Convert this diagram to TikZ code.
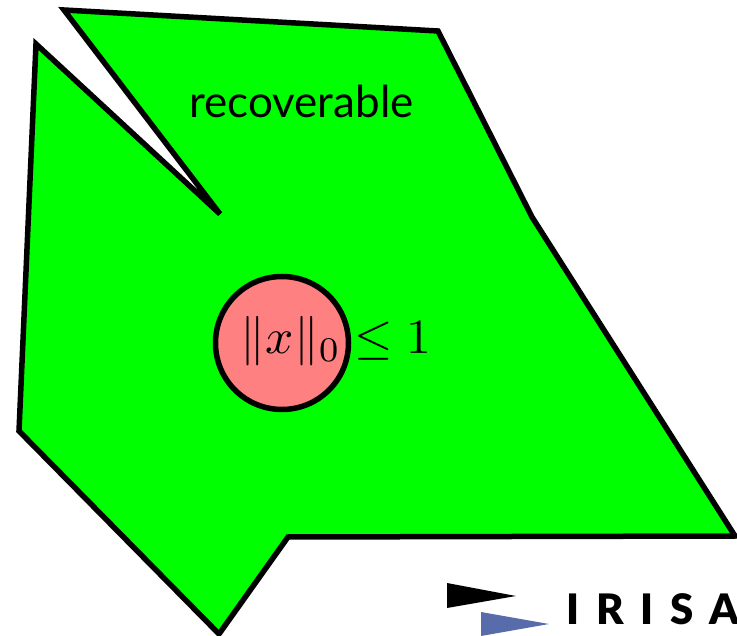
\documentclass[tikz,border=0pt]{standalone}
\usepackage{amsmath,amssymb}
\usepackage{fontspec}
\usepackage{xcolor}
\usepackage{tikz}
\newfontfamily\regionfont{Lato}
\newfontfamily\logofont[LetterSpace=40]{Lato Black}
\definecolor{regiongreen}{RGB}{0,255,0}
\definecolor{ballred}{RGB}{255,128,128}
\definecolor{logoblue}{RGB}{88,108,172}
\tikzset{
  regionshape/.style={draw=black,fill=regiongreen,line width=5.5pt,miter limit=3},
  ballshape/.style={draw=black,fill=ballred,line width=5.5pt},
  regionlabel/.style={anchor=base west,inner sep=0pt,font=\regionfont\fontsize{44}{52}\selectfont},
  balllabel/.style={anchor=base west,inner sep=0pt,scale=4.95},
  logolabel/.style={anchor=base west,inner sep=0pt,font=\logofont\fontsize{42}{50}\selectfont}
}
\begin{document}
\begin{tikzpicture}[x=1pt,y=-1pt]
  \useasboundingbox (0,0) rectangle (737,636);
  \draw[regionshape] (64,10)--(438,31)--(532,217)--(735,536)--(288,537)--(219,634)--(19,431)--(36,44)--(220,214)--cycle;
  \node[regionlabel] (recoverable) at (189,118) {recoverable};
  \node[ballshape,circle,minimum size=133pt,inner sep=0pt] (ball) at (282,343) {};
  \node[balllabel] (ballnorm) at (240,354) {$\|x\|_0\leq 1$};
  \fill[black] (447,583)--(516,596)--(447,608)--cycle;
  \fill[logoblue] (481,612)--(549,624)--(481,636)--cycle;
  \node[logolabel] (irisa) at (566,624) {IRISA};
\end{tikzpicture}
\end{document}
